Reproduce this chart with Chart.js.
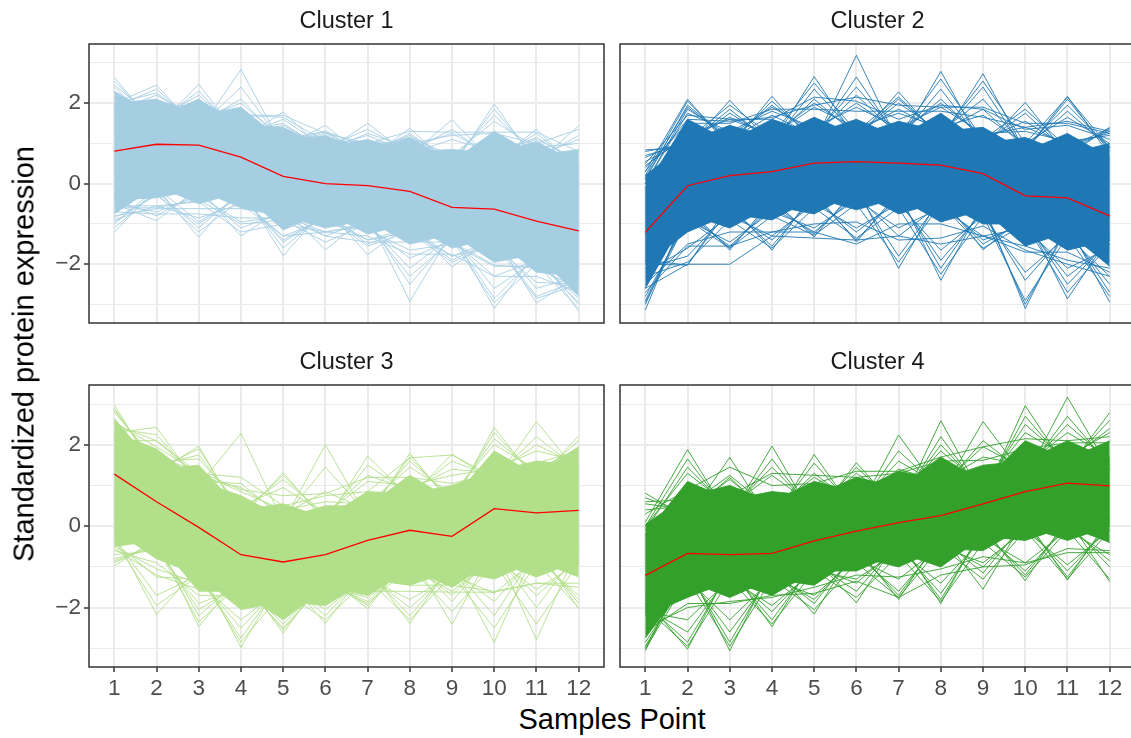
<!DOCTYPE html>
<html>
<head>
<meta charset="utf-8">
<title>Clusters</title>
<script src="https://cdn.jsdelivr.net/npm/chart.js@4"></script>
<style>
  html, body { margin: 0; padding: 0; background: #fff; width: 1131px; height: 738px; overflow: hidden; }
  canvas { position: absolute; }
  .axis-title { position: absolute; font-family: "Liberation Sans", sans-serif; font-size: 29px; color: #000; white-space: nowrap; }
</style>
</head>
<body>
<canvas id="c1" width="607" height="326" style="left:0;top:0"></canvas>
<canvas id="c2" width="520" height="326" style="left:618px;top:0"></canvas>
<canvas id="c3" width="607" height="360" style="left:0;top:341px"></canvas>
<canvas id="c4" width="520" height="360" style="left:618px;top:341px"></canvas>
<div class="axis-title" style="left:24px;top:354px;transform:translate(-50%,-50%) rotate(-90deg)">Standardized protein expression</div>
<div class="axis-title" style="left:612px;top:719px;transform:translate(-50%,-50%)">Samples Point</div>
<script>
const samples = [1,2,3,4,5,6,7,8,9,10,11,12];
const yTicks = [-3,-2,-1,0,1,2,3];

// cluster 1 - the solid mass is two zigzag bands, the loose lines sit on top
const c1Mean = [0.81,0.98,0.96,0.66,0.18,0,-0.05,-0.19,-0.59,-0.63,-0.93,-1.17];
const c1TopA = [2.3,1.65,2.1,1.45,1.4,0.9,1.1,0.8,0.85,0.75,1.05,0.5];
const c1TopB = [2.0,2.1,1.7,1.9,1.05,1.2,0.8,1.15,0.55,1.3,0.7,0.85];
const c1BotA = [-0.75,-0.05,-0.5,-0.2,-1.15,-0.7,-1.25,-1.0,-1.6,-1.35,-2.2,-2.3];
const c1BotB = [-0.4,-0.35,-0.15,-0.6,-0.8,-1.1,-0.9,-1.5,-1.25,-1.95,-1.75,-2.8];
const c1Lines = [
  [2.64,1.4,2.47,1.1,1.78,0.8,1.5,0.7,1.59,0.5,1.36,0.3],
  [2.0,2.45,1.3,2.84,0.9,1.45,0.6,1.38,0.4,1.98,0.5,1.44],
  [2.55,1.5,2.3,1.2,1.6,0.9,1.35,0.8,1.35,0.6,1.25,0.4],
  [1.9,2.35,1.4,2.4,1.0,1.3,0.7,1.25,0.5,1.85,0.6,1.2],
  [2.45,1.6,2.2,1.3,1.5,0.8,1.25,0.9,1.25,0.7,1.15,0.5],
  [2.0,2.25,1.5,2.1,1.0,1.25,0.8,1.2,0.6,1.7,0.7,1.1],
  [2.4,1.4,2.1,1.2,1.45,0.9,1.2,0.75,1.1,0.8,1.1,0.6],
  [1.8,2.2,1.6,2.0,1.1,1.3,0.9,1.15,0.7,1.55,0.9,1.0],
  [2.1,1.9,1.7,1.7,1.7,1.25,1.0,1.3,1.28,1.28,1.28,0.8],
  [1.8,2.0,1.9,1.7,1.65,1.05,1.05,1.0,1.2,1.25,1.0,1.35],
  [-1.21,-0.1,-1.33,-0.1,-1.79,-0.6,-1.76,-1.0,-2.07,-1.3,-2.96,-2.3],
  [-0.5,-0.92,-0.1,-1.3,-0.6,-1.64,-0.8,-2.92,-1.2,-3.1,-1.7,-3.17],
  [-1.1,-0.2,-1.1,-0.2,-1.6,-0.7,-1.5,-1.1,-1.9,-1.4,-2.8,-2.4],
  [-0.4,-0.8,-0.2,-1.1,-0.7,-1.3,-0.9,-2.5,-1.3,-2.85,-1.8,-3.0],
  [-1.0,-0.1,-0.95,-0.3,-1.4,-0.8,-1.4,-1.1,-1.8,-1.4,-2.6,-2.3],
  [-0.5,-0.7,-0.3,-0.95,-0.8,-1.2,-1.0,-2.1,-1.3,-2.6,-1.9,-2.85],
  [-0.85,-0.3,-1.0,-0.3,-1.45,-0.8,-1.55,-1.2,-1.95,-1.5,-2.85,-2.5],
  [-0.6,-0.6,-0.4,-1.0,-0.9,-1.45,-1.0,-2.3,-1.4,-2.95,-2.0,-3.1],
  [-0.95,-0.25,-1.2,-0.4,-1.3,-0.9,-1.4,-1.2,-1.8,-1.55,-2.45,-2.5],
  [-0.55,-0.55,-0.45,-1.2,-1.0,-1.2,-1.05,-1.85,-1.4,-2.3,-1.9,-2.95],
  [-0.8,-0.62,-0.62,-0.62,-0.8,-1.0,-1.15,-1.65,-1.5,-2.05,-2.05,-2.4],
  [-0.7,-0.75,-0.75,-0.85,-0.85,-1.3,-1.45,-1.45,-1.45,-2.02,-2.1,-2.6],
  [-0.9,-0.55,-0.85,-0.5,-1.3,-1.2,-1.3,-1.75,-1.75,-2.3,-2.3,-2.7]
];

// cluster 2
const c2Mean = [-1.21,-0.05,0.2,0.3,0.51,0.55,0.51,0.46,0.25,-0.3,-0.35,-0.8];
const c2TopA = [0.2,1.05,1.45,1.15,1.65,1.2,1.55,1.3,1.4,0.8,1.25,0.65];
const c2TopB = [-0.1,1.6,1.05,1.6,1.25,1.6,1.15,1.75,1.0,1.15,0.75,1.0];
const c2BotA = [-2.6,-0.75,-1.1,-0.55,-0.75,-0.2,-0.75,-0.45,-1.0,-1.0,-1.65,-1.4];
const c2BotB = [-2.0,-1.2,-0.75,-0.9,-0.35,-0.65,-0.35,-0.95,-0.65,-1.55,-1.2,-2.05];
const c2Lines = [
  [0.84,0.9,2.07,1.0,2.66,1.1,2.28,1.1,2.73,0.8,2.17,0.7],
  [0.3,2.1,0.9,2.17,1.0,3.19,1.0,2.79,0.9,2.02,0.7,1.4],
  [0.8,1.0,1.85,1.0,2.35,1.2,2.1,1.2,2.4,0.8,2.1,0.8],
  [0.2,2.05,1.0,2.05,1.1,2.65,1.1,2.35,1.0,1.75,0.8,1.35],
  [0.7,1.0,1.75,1.1,2.1,1.2,2.0,1.3,2.1,0.9,1.95,0.9],
  [0.1,1.95,1.1,1.95,1.2,2.2,1.2,2.1,1.1,1.55,0.9,1.3],
  [0.55,1.1,1.65,1.2,2.0,1.3,1.85,1.3,1.85,0.9,1.8,0.9],
  [0,1.85,1.2,1.9,1.3,2.0,1.3,2.0,1.2,1.4,1.0,1.25],
  [0.45,1.2,1.6,1.2,1.9,1.4,1.75,1.4,1.7,1.0,1.65,1.0],
  [0,1.75,1.3,1.8,1.4,1.9,1.4,1.9,1.25,1.3,1.05,1.2],
  [0.15,1.9,1.1,1.7,1.2,2.4,1.2,2.6,1.1,1.85,0.9,1.38],
  [0.65,1.1,1.95,1.2,2.5,1.3,2.15,1.2,2.55,1.0,2.15,0.9],
  [0.5,1.7,1.6,1.6,2.15,2.05,1.6,1.95,1.85,1.35,1.45,1.1],
  [0.3,1.6,1.55,1.65,1.95,2.15,1.95,1.9,1.9,1.5,1.5,1.25],
  [0.4,1.5,1.5,1.85,1.85,1.8,1.8,1.8,1.65,1.4,1.55,1.3],
  [-3.14,-0.6,-1.65,-0.4,-1.32,-0.1,-2.1,-0.3,-1.64,-0.8,-2.86,-1.3],
  [-1.9,-2.02,-0.5,-1.65,-0.2,-1.45,-0.2,-2.4,-0.5,-3.1,-1.0,-2.94],
  [-3.0,-0.7,-1.6,-0.5,-1.25,-0.2,-1.8,-0.4,-1.5,-0.9,-2.5,-1.4],
  [-2.0,-2.02,-0.6,-1.55,-0.3,-1.4,-0.3,-2.1,-0.6,-3.0,-1.1,-2.7],
  [-2.9,-0.8,-1.55,-0.6,-1.2,-0.3,-1.3,-0.5,-1.4,-1.0,-2.3,-1.5],
  [-2.1,-1.8,-0.7,-1.4,-0.4,-1.2,-0.4,-1.9,-0.7,-2.4,-1.2,-2.5],
  [-2.8,-0.9,-1.45,-0.7,-1.1,-0.4,-1.1,-0.6,-1.3,-1.1,-2.1,-1.6],
  [-2.2,-1.6,-0.8,-1.3,-0.5,-1.1,-0.5,-1.65,-0.8,-2.2,-1.3,-2.3],
  [-2.95,-0.9,-1.6,-0.8,-1.28,-0.5,-1.95,-0.5,-1.6,-1.0,-2.7,-1.5],
  [-2.3,-1.95,-0.9,-1.6,-0.6,-1.35,-0.6,-2.25,-0.8,-2.9,-1.3,-2.8],
  [-2.7,-1.55,-1.55,-1.2,-1.2,-1.5,-1.0,-1.0,-1.3,-1.55,-1.9,-2.1],
  [-2.6,-2.0,-2.0,-1.3,-1.35,-1.4,-1.3,-1.5,-1.3,-1.7,-1.7,-2.2],
  [-2.5,-1.5,-1.2,-1.2,-1.0,-0.95,-1.4,-1.35,-1.05,-1.65,-2.0,-2.3]
];

// cluster 3
const c3Mean = [1.28,0.6,-0.03,-0.7,-0.88,-0.7,-0.35,-0.1,-0.25,0.43,0.33,0.39];
const c3TopA = [2.65,1.4,1.5,0.4,0.55,0.2,0.85,0.8,1.0,1.35,1.6,1.5];
const c3TopB = [2.3,1.9,1.1,0.75,0.2,0.5,0.5,1.25,0.65,1.85,1.25,1.95];
const c3BotA = [-0.5,-0.35,-1.6,-1.6,-2.3,-1.5,-1.7,-1.05,-1.5,-0.85,-1.25,-0.85];
const c3BotB = [-0.1,-0.8,-1.2,-2.05,-1.85,-1.95,-1.3,-1.45,-1.1,-1.3,-0.85,-1.25];
const c3Lines = [
  [2.98,1.3,1.97,0.2,1.32,0.1,1.72,0.7,1.77,1.1,2.57,1.3],
  [2.3,2.43,1.0,2.28,0.1,2.0,0.2,1.79,0.5,2.43,1.1,2.22],
  [2.9,1.4,1.9,0.3,1.25,0.2,1.5,0.8,1.6,1.2,2.2,1.4],
  [2.4,2.25,1.1,1.05,0.2,1.45,0.3,1.7,0.6,2.3,1.2,2.1],
  [2.85,1.5,1.75,0.4,1.15,0.3,1.25,0.9,1.4,1.3,2.0,1.5],
  [2.5,2.1,1.2,0.95,0.3,0.85,0.4,1.6,0.7,2.15,1.3,1.95],
  [2.8,1.6,1.65,0.5,0.95,0.3,1.1,1.0,1.25,1.4,1.85,1.6],
  [2.55,1.95,1.3,0.85,0.4,0.6,0.55,1.45,0.8,2.0,1.4,1.9],
  [2.1,2.1,1.3,1.2,0.5,0.75,0.85,1.68,1.75,1.2,1.55,1.85],
  [2.4,1.7,1.35,0.9,0.75,0.8,1.2,1.2,1.05,1.3,1.3,1.7],
  [-0.98,-0.3,-2.47,-1.2,-2.63,-1.2,-2.03,-0.7,-2.41,-0.5,-2.79,-0.5],
  [-0.2,-2.17,-1.0,-2.98,-1.2,-2.39,-1.0,-2.39,-0.9,-2.86,-0.5,-2.03],
  [-0.9,-0.4,-2.2,-1.3,-2.55,-1.3,-1.95,-0.8,-1.85,-0.6,-2.0,-0.6],
  [-0.3,-1.7,-1.2,-2.75,-1.3,-2.2,-1.1,-2.2,-1.0,-2.2,-0.6,-1.9],
  [-0.8,-0.5,-2.05,-1.4,-2.4,-1.4,-1.85,-0.9,-1.7,-0.7,-1.7,-0.8],
  [-0.4,-1.25,-1.3,-2.5,-1.4,-2.05,-1.2,-2.0,-1.1,-1.85,-0.7,-1.8],
  [-0.85,-0.5,-2.35,-1.4,-2.5,-1.4,-1.9,-1.0,-2.1,-0.9,-2.4,-0.9],
  [-0.35,-1.95,-1.2,-2.85,-1.6,-2.3,-1.3,-2.3,-1.2,-2.5,-0.9,-2.0],
  [-0.7,-0.6,-1.9,-1.5,-2.3,-1.5,-1.75,-1.0,-1.6,-0.8,-1.55,-0.9],
  [-0.5,-1.05,-1.4,-2.3,-1.5,-1.95,-1.3,-1.8,-1.2,-1.65,-0.8,-1.7],
  [-0.6,-0.9,-1.7,-1.7,-1.7,-1.5,-1.6,-1.6,-1.62,-1.62,-1.4,-1.4],
  [-0.55,-1.2,-1.55,-1.55,-1.9,-1.7,-1.3,-1.45,-1.45,-1.6,-1.4,-1.5]
];

// cluster 4
const c4Mean = [-1.21,-0.67,-0.7,-0.67,-0.36,-0.12,0.09,0.26,0.55,0.85,1.06,0.99];
const c4TopA = [0.05,0.75,1.0,0.6,1.1,0.85,1.35,1.15,1.5,1.6,2.1,1.65];
const c4TopB = [-0.2,1.1,0.65,0.85,0.75,1.2,0.95,1.7,1.1,2.1,1.65,2.1];
const c4BotA = [-2.75,-1.35,-1.75,-1.3,-1.45,-0.75,-1.0,-0.55,-0.6,0,-0.35,0];
const c4BotB = [-2.2,-1.75,-1.35,-1.7,-1.1,-1.1,-0.65,-1.0,-0.25,-0.35,0,-0.4];
const c4Lines = [
  [0.81,0.2,1.69,0.1,1.76,0.3,2.24,0.8,2.57,1.2,3.17,1.4],
  [0.1,1.88,0.2,1.97,0.2,1.56,0.4,2.59,0.7,2.96,1.4,2.79],
  [0.7,0.3,1.2,0.2,1.55,0.4,1.85,0.9,2.1,1.3,2.7,1.5],
  [0,1.65,0.3,1.65,0.3,1.45,0.5,2.2,0.8,2.7,1.5,2.6],
  [0.55,0.4,1.15,0.3,1.3,0.5,1.6,1.0,1.95,1.4,2.5,1.6],
  [-0.1,1.45,0.4,1.45,0.4,1.3,0.6,2.0,0.9,2.5,1.6,2.4],
  [0.4,0.5,1.25,0.4,1.2,0.6,1.4,1.1,1.7,1.5,2.3,1.7],
  [0,1.3,0.5,1.25,0.5,1.2,0.7,1.85,1.0,2.3,1.7,2.3],
  [0.6,0.65,0.75,1.3,1.25,1.2,1.3,1.6,1.62,1.9,2.05,2.05],
  [0.3,0.9,1.45,1.0,1.05,1.35,1.35,1.7,1.95,2.15,2.1,2.2],
  [-3.06,-1.0,-3.06,-1.0,-2.16,-0.5,-1.8,-0.2,-1.55,0.2,-1.32,0.2],
  [-1.8,-3.02,-1.0,-2.47,-0.8,-1.88,-0.3,-1.9,0,-1.34,0.2,-1.36],
  [-3.0,-1.1,-2.85,-1.1,-1.9,-0.6,-1.7,-0.3,-1.15,0.1,-1.25,0.1],
  [-1.9,-2.85,-1.1,-2.3,-0.9,-1.6,-0.4,-1.8,-0.1,-1.2,0.1,-1.0],
  [-3.02,-1.3,-2.95,-1.3,-2.05,-0.9,-1.75,-0.5,-1.3,-0.1,-1.3,-0.1],
  [-2.0,-2.95,-1.3,-2.4,-1.1,-1.75,-0.7,-1.85,-0.4,-1.25,-0.1,-1.3],
  [-2.95,-1.2,-2.6,-1.2,-1.8,-0.7,-1.6,-0.4,-1.0,0,-1.1,0],
  [-2.0,-2.6,-1.2,-2.1,-1.0,-1.4,-0.5,-1.65,-0.2,-1.1,0,-0.85],
  [-2.85,-1.3,-2.3,-1.3,-1.7,-0.8,-1.3,-0.5,-0.9,-0.1,-0.95,-0.1],
  [-2.1,-2.3,-1.3,-1.95,-1.1,-1.3,-0.6,-1.4,-0.3,-0.9,-0.1,-0.7],
  [-2.6,-1.9,-1.9,-1.7,-1.65,-1.35,-1.75,-1.2,-1.0,-0.95,-0.55,-0.6],
  [-2.5,-2.0,-1.85,-1.75,-1.5,-1.2,-1.25,-1.05,-0.75,-0.9,-0.65,-0.65]
];

const toPoints = vals => vals.map((v, i) => ({ x: samples[i], y: v }));

const panelBorder = {
  id: 'panelBorder',
  afterDatasetsDraw(chart) {
    const a = chart.chartArea, ctx = chart.ctx;
    ctx.save();
    ctx.strokeStyle = '#333333';
    ctx.lineWidth = 1.5;
    ctx.strokeRect(a.left, a.top, a.right - a.left, a.bottom - a.top);
    ctx.restore();
  }
};

function drawPanel(id, title, color, mean, topA, botA, topB, botB, lines, showX, showY) {
  const thin = vals => ({ data: toPoints(vals), borderColor: color, borderWidth: 0.9, pointRadius: 0, fill: false });
  const band = (vals, target) => ({ data: toPoints(vals), borderColor: color, borderWidth: 0.9, pointRadius: 0, backgroundColor: color, fill: { target } });
  const datasets = [{ data: toPoints(mean), borderColor: '#FF0000', borderWidth: 1.3, pointRadius: 0, fill: false }];
  lines.forEach(l => datasets.push(thin(l)));
  datasets.push(band(topA, datasets.length + 1));
  datasets.push(thin(botA));
  datasets.push(band(topB, datasets.length + 1));
  datasets.push(thin(botB));

  new Chart(document.getElementById(id), {
    type: 'line',
    data: { datasets },
    plugins: [panelBorder],
    options: {
      responsive: false,
      animation: false,
      events: [],
      layout: { padding: { left: showY ? 0 : 2, right: 3, bottom: showX ? 0 : 3, top: 0 } },
      plugins: {
        legend: { display: false },
        tooltip: { enabled: false },
        title: {
          display: true,
          text: title,
          fullSize: false,
          color: '#1A1A1A',
          font: { family: '"Liberation Sans", sans-serif', size: 23.5, weight: 'normal', lineHeight: '20px' },
          padding: { top: 12, bottom: 12 }
        }
      },
      scales: {
        x: {
          type: 'linear',
          min: 0.4,
          max: 12.6,
          afterBuildTicks: s => { s.ticks = samples.map(v => ({ value: v })); },
          afterFit: s => { s.height = showX ? 34 : 0; s.paddingLeft = 0; s.paddingRight = 0; },
          border: { display: false },
          grid: { color: '#EBEBEB', lineWidth: 2, drawTicks: showX, tickColor: '#333333', tickLength: 5, tickWidth: 1.5 },
          ticks: {
            display: showX,
            autoSkip: false,
            maxRotation: 0,
            padding: 3,
            color: '#4D4D4D',
            font: { family: '"Liberation Sans", sans-serif', size: 22.5 },
            callback: v => String(v)
          }
        },
        y: {
          min: -3.46,
          max: 3.47,
          afterBuildTicks: s => { s.ticks = yTicks.map(v => ({ value: v })); },
          afterFit: s => { s.width = showY ? 89 : 0; s.paddingTop = 0; s.paddingBottom = 0; },
          border: { display: false },
          grid: {
            color: '#EBEBEB',
            lineWidth: c => (c.tick && c.tick.value % 2 === 0 ? 2 : 1),
            drawTicks: showY,
            tickColor: c => (c.tick && c.tick.value % 2 === 0 ? '#333333' : 'rgba(0,0,0,0)'),
            tickLength: 5,
            tickWidth: 1.5
          },
          ticks: {
            display: showY,
            autoSkip: false,
            padding: 3,
            color: '#4D4D4D',
            font: { family: '"Liberation Sans", sans-serif', size: 22.5 },
            callback: v => (v % 2 === 0 ? String(v).replace('-', '\u2212') : '')
          }
        }
      }
    }
  });
}

drawPanel('c1', 'Cluster 1', '#A6CEE3', c1Mean, c1TopA, c1BotA, c1TopB, c1BotB, c1Lines, false, true);
drawPanel('c2', 'Cluster 2', '#1F78B4', c2Mean, c2TopA, c2BotA, c2TopB, c2BotB, c2Lines, false, false);
drawPanel('c3', 'Cluster 3', '#B2DF8A', c3Mean, c3TopA, c3BotA, c3TopB, c3BotB, c3Lines, true, true);
drawPanel('c4', 'Cluster 4', '#33A02C', c4Mean, c4TopA, c4BotA, c4TopB, c4BotB, c4Lines, true, false);
</script>
</body>
</html>
